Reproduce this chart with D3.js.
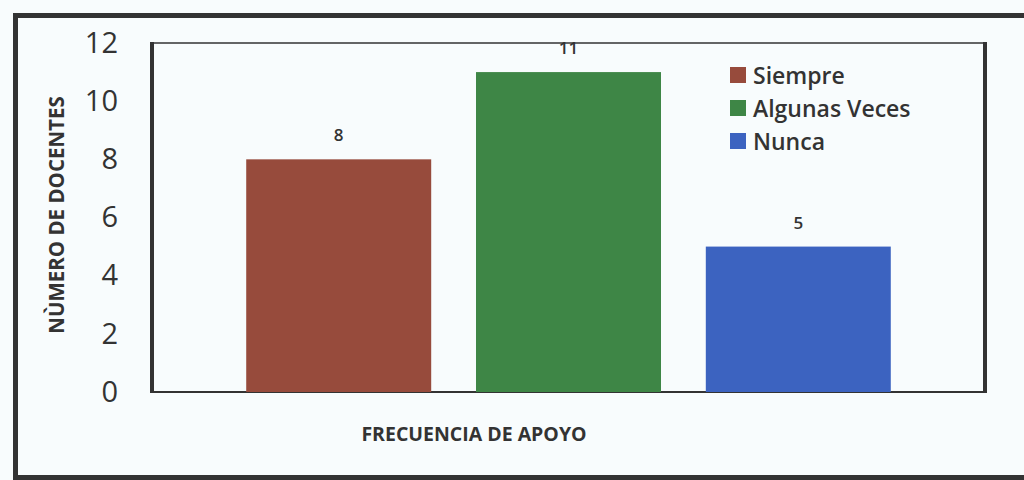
<!DOCTYPE html>
<html>
<head>
<meta charset="utf-8">
<script src="https://cdn.jsdelivr.net/npm/d3@7"></script>
<style>
  html, body { margin: 0; padding: 0; background: #f8fcfd; }
  svg { display: block; }
</style>
</head>
<body>
<svg id="chart" width="1024" height="480"></svg>
<script>
// Frequency of support reported by teachers
const categories = ["Siempre", "Algunas Veces", "Nunca"];
const values = [8, 11, 5];
const colors = ["#974b3c", "#3e8646", "#3c63c0"];
const yTicks = [0, 2, 4, 6, 8, 10, 12];
const yTitle = "NÙMERO DE DOCENTES";
const xTitle = "FRECUENCIA DE APOYO";

const svg = d3.select("#chart");
const font = "'Open Sans', 'Noto Sans', sans-serif";

// outer frame (top, left, bottom edges)
svg.append("path")
  .attr("d", "M1024,15.5 H15.5 V477.5 H1024")
  .attr("fill", "none")
  .attr("stroke", "#333")
  .attr("stroke-width", 5);

const plot = { left: 152, right: 985, top: 43, bottom: 392 };

const x = d3.scaleBand()
  .domain(categories)
  .range([plot.left, plot.right])
  .paddingInner(0.195)
  .paddingOuter(0.41);

const y = d3.scaleLinear()
  .domain([0, 12])
  .range([plot.bottom, plot.top]);

// plot area border
svg.append("line").attr("x1", plot.left).attr("x2", plot.right)
  .attr("y1", plot.top).attr("y2", plot.top)
  .attr("stroke", "#333").attr("stroke-width", 1.5);
svg.append("line").attr("x1", plot.left).attr("x2", plot.right)
  .attr("y1", plot.bottom).attr("y2", plot.bottom)
  .attr("stroke", "#333").attr("stroke-width", 2);
svg.append("line").attr("x1", plot.left).attr("x2", plot.left)
  .attr("y1", plot.top - 1).attr("y2", plot.bottom + 1)
  .attr("stroke", "#333").attr("stroke-width", 4);
svg.append("line").attr("x1", plot.right).attr("x2", plot.right)
  .attr("y1", plot.top - 1).attr("y2", plot.bottom + 1)
  .attr("stroke", "#333").attr("stroke-width", 4);

// bars
svg.append("g").selectAll("rect")
  .data(categories)
  .join("rect")
  .attr("x", d => x(d))
  .attr("width", x.bandwidth())
  .attr("y", (d, i) => y(values[i]))
  .attr("height", (d, i) => y(0) - y(values[i]))
  .attr("fill", (d, i) => colors[i]);

// value labels
svg.append("g").selectAll("text")
  .data(categories)
  .join("text")
  .attr("x", d => x(d) + x.bandwidth() / 2)
  .attr("y", (d, i) => y(values[i]) - 18)
  .attr("text-anchor", "middle")
  .attr("font-family", font)
  .attr("font-weight", 600)
  .attr("font-size", 17)
  .attr("fill", "#333")
  .text((d, i) => values[i]);

// y axis tick labels
const yAxis = d3.axisLeft(y).tickValues(yTicks).tickSize(0).tickPadding(0);
const gy = svg.append("g").attr("transform", `translate(118,0)`).call(yAxis);
gy.select(".domain").remove();
gy.selectAll("text")
  .attr("font-family", font)
  .attr("font-size", 29)
  .attr("fill", "#333");

// axis titles
svg.append("text")
  .attr("transform", "translate(64,215) rotate(-90)")
  .attr("text-anchor", "middle")
  .attr("font-family", font)
  .attr("font-weight", "bold")
  .attr("font-size", 20.5)
  .attr("fill", "#333")
  .text(yTitle);

svg.append("text")
  .attr("x", 474)
  .attr("y", 441)
  .attr("text-anchor", "middle")
  .attr("font-family", font)
  .attr("font-weight", "bold")
  .attr("font-size", 19.5)
  .attr("fill", "#333")
  .text(xTitle);

// legend
const legend = svg.append("g").attr("transform", "translate(730,75)");
const rows = legend.selectAll("g")
  .data(categories)
  .join("g")
  .attr("transform", (d, i) => `translate(0,${i * 33})`);
rows.append("rect")
  .attr("x", 0).attr("y", -8)
  .attr("width", 16).attr("height", 16)
  .attr("fill", (d, i) => colors[i]);
rows.append("text")
  .attr("x", 23).attr("y", 8.5)
  .attr("font-family", font)
  .attr("font-weight", 600)
  .attr("font-size", 23)
  .attr("fill", "#333")
  .text(d => d);
</script>
</body>
</html>
